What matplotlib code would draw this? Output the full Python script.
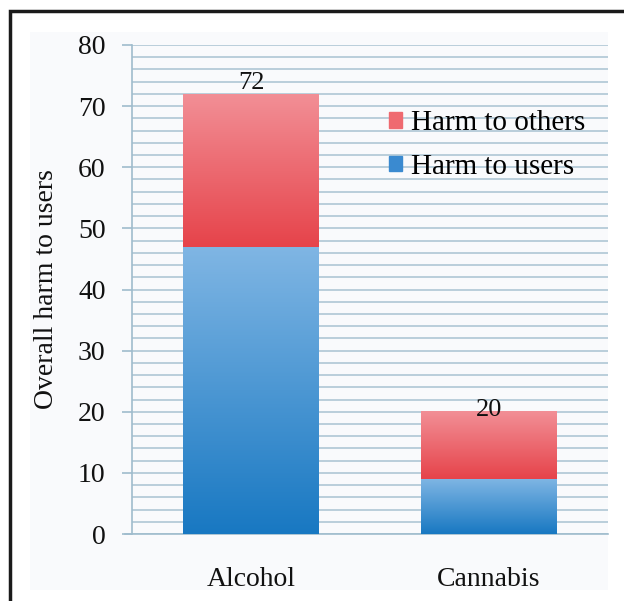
import numpy as np
import matplotlib
matplotlib.use("Agg")
from matplotlib import pyplot as plt
from matplotlib.ticker import MultipleLocator
from matplotlib.colors import LinearSegmentedColormap
from matplotlib.patches import Rectangle

# datos
categorias = ["Alcohol", "Cannabis"]
dano_usuarios = [47, 9]
dano_otros = [25, 11]
series = ["Harm to others", "Harm to users"]

plt.rcParams['font.family'] = ['Liberation Serif', 'DejaVu Serif']

fig = plt.figure(figsize=(6.24, 6.01), dpi=100)
fig.patch.set_facecolor('white')

# marco exterior y panel claro
fig.add_artist(Rectangle((10/624, -0.05), 1.0, 1 - 11/601 + 0.05, transform=fig.transFigure,
                         fill=False, edgecolor='#1a1a1a', linewidth=2.5))
fig.add_artist(Rectangle((30/624, 1 - 590/601), 578/624, 558/601, transform=fig.transFigure,
                         facecolor='#f9fafc', edgecolor='none', zorder=-1))

ax = fig.add_axes([132/624, 1 - 534/601, 476/624, 489/601])
ax.set_facecolor('none')

x = np.arange(len(categorias))
ancho = 0.57

cmap_azul = LinearSegmentedColormap.from_list('azul', ['#1878c2', '#80b6e4'])
cmap_rojo = LinearSegmentedColormap.from_list('rojo', ['#e6434a', '#f28f96'])
grad = np.linspace(0, 1, 256).reshape(-1, 1)

barras_u = ax.bar(x, dano_usuarios, ancho, color='none', zorder=3)
barras_o = ax.bar(x, dano_otros, ancho, bottom=dano_usuarios, color='none', zorder=3)

for barras, cmap in ((barras_u, cmap_azul), (barras_o, cmap_rojo)):
    for r in barras:
        x0, y0 = r.get_x(), r.get_y()
        ax.imshow(grad, cmap=cmap, origin='lower', aspect='auto', zorder=3,
                  extent=(x0, x0 + r.get_width(), y0, y0 + r.get_height()))

ax.set_xlim(-0.5, 1.5)
ax.set_ylim(0, 80)

# etiquetas de total
totales = [u + o for u, o in zip(dano_usuarios, dano_otros)]
desfases = [0, -7]
for xi, t, d in zip(x, totales, desfases):
    ax.annotate(str(t), (xi, t), xytext=(0, d), textcoords='offset points',
                ha='center', va='bottom', fontsize=19, color='#111111', zorder=5)

ax.yaxis.set_major_locator(MultipleLocator(10))
ax.yaxis.set_minor_locator(MultipleLocator(2))
ax.grid(which='both', axis='y', color='#a9c2d2', linewidth=1.1, zorder=0)
ax.set_axisbelow(True)

for s in ['top', 'right']:
    ax.spines[s].set_visible(False)
ax.spines['left'].set_color('#9fbccd')
ax.spines['bottom'].set_color('#9fbccd')
ax.spines['left'].set_linewidth(1.2)
ax.spines['bottom'].set_linewidth(1.2)
ax.spines['bottom'].set_bounds(-0.53, 1.5)

ax.tick_params(axis='y', which='major', length=7, color='#9fbccd', width=1.2,
               labelsize=20, labelcolor='#111111', pad=12)
ax.tick_params(axis='y', which='minor', length=0)
ax.tick_params(axis='x', length=0, labelsize=20, labelcolor='#111111', pad=24)
ax.set_xticks(x)
ax.set_xticklabels(categorias)

ax.set_ylabel("Overall harm to users", fontsize=20, color='#111111', labelpad=14)

# leyenda
h_o = Rectangle((0, 0), 1, 1, color='#ef6a70')
h_u = Rectangle((0, 0), 1, 1, color='#3a8ad0')
ax.legend([h_o, h_u], series, loc='upper left', bbox_to_anchor=(0.515, 0.89),
          frameon=False, fontsize=21, handlelength=0.45, handleheight=0.45,
          handletextpad=0.3, labelspacing=0.6, borderaxespad=0)

plt.savefig("out.png", dpi=100)
